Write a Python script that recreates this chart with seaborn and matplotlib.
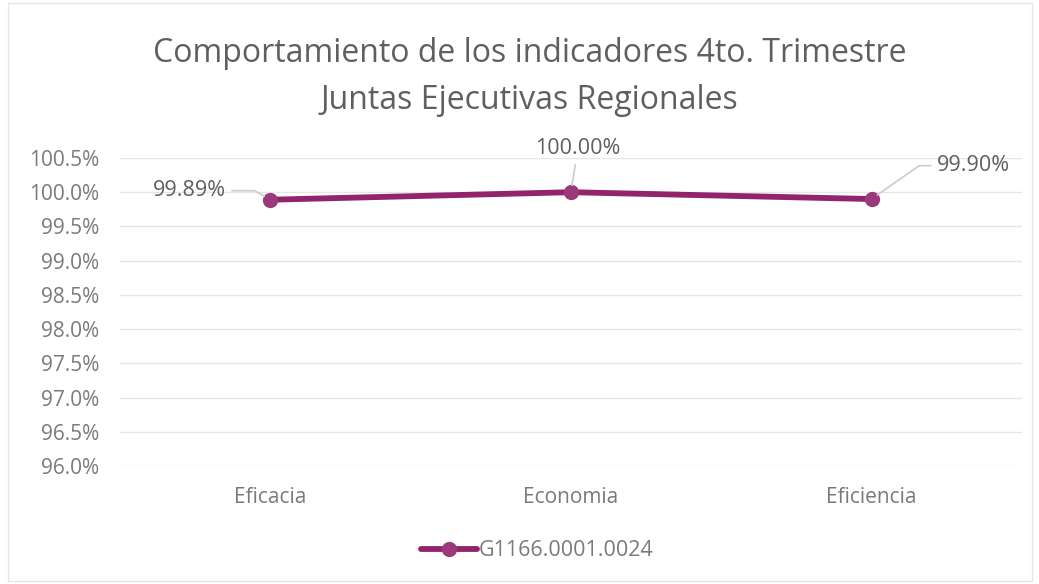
import matplotlib
matplotlib.use("Agg")
import matplotlib.pyplot as plt
from matplotlib.lines import Line2D
import pandas as pd
import seaborn as sns

categorias = ["Eficacia", "Economia", "Eficiencia"]
valores = [99.89, 100.00, 99.90]
etiquetas = ["99.89%", "100.00%", "99.90%"]
serie = "G1166.0001.0024"
y_ticks = [96.0, 96.5, 97.0, 97.5, 98.0, 98.5, 99.0, 99.5, 100.0, 100.5]

df = pd.DataFrame({"categoria": categorias, "valor": valores, "serie": serie})

sns.set_theme(style="white")
plt.rcParams['font.family'] = ['Open Sans', 'DejaVu Sans']

color = "#93246c"
color_marca = "#9a3a7b"
gris = "#5f5f5f"
gris_ticks = "#7a7a7a"

fig = plt.figure(figsize=(10.39, 5.84), dpi=100)
ax = fig.add_axes([0.1155, 0.2021, 0.868, 0.5274])

sns.lineplot(data=df, x="categoria", y="valor", hue="serie", palette=[color],
             marker="o", markersize=11, linewidth=4.2, markeredgewidth=0,
             markerfacecolor=color_marca, ax=ax, legend=False, sort=False)

ax.set_xlim(-0.5, 2.5)
ax.set_ylim(96.0, 100.5)
ax.set_yticks(y_ticks)
ax.set_yticklabels([f"{v:.1f}%" for v in y_ticks])
ax.set_xlabel("")
ax.set_ylabel("")
for s in ax.spines.values():
    s.set_visible(False)
ax.grid(axis="y", color="#e6e6e6", linewidth=1.0)
ax.set_axisbelow(True)
ax.tick_params(axis="y", length=0, pad=15, labelsize=15, labelcolor=gris_ticks)
ax.tick_params(axis="x", length=0, pad=15, labelsize=15, labelcolor=gris_ticks)

# etiquetas de datos con lineas guia
offsets = [(-32, 6.5), (5, 24), (47, 24)]
aligns = [("right", "center"), ("center", "bottom"), ("left", "center")]
conexiones = ["angle,angleA=0,angleB=150,rad=0",
              "arc3,rad=0",
              "angle,angleA=180,angleB=35,rad=0"]
for i, (v, lab) in enumerate(zip(valores, etiquetas)):
    ax.annotate(lab, xy=(i, v), xytext=offsets[i], textcoords="offset points",
                ha=aligns[i][0], va=aligns[i][1], fontsize=15.5, color=gris,
                arrowprops=dict(arrowstyle="-", color="#cccccc", lw=1.2,
                                shrinkA=2, shrinkB=5,
                                connectionstyle=conexiones[i]))

fig.suptitle("Comportamiento de los indicadores 4to. Trimestre\nJuntas Ejecutivas Regionales",
             x=0.51, y=0.937, fontsize=23, color=gris, linespacing=1.57)

h = Line2D([], [], color=color, linewidth=4.2, marker="o", markersize=11,
           markeredgewidth=0, markerfacecolor=color_marca)
fig.legend([h], [serie], loc="center", bbox_to_anchor=(0.517, 0.057), frameon=False,
           fontsize=15.5, labelcolor=gris_ticks, handlelength=2.6, handletextpad=0.1)

fig.patches.append(plt.Rectangle((0.008, 0.005), 0.985, 0.99, transform=fig.transFigure,
                                 fill=False, edgecolor="#e6e6e6", linewidth=1.0))

fig.savefig("out.png", dpi=100)
